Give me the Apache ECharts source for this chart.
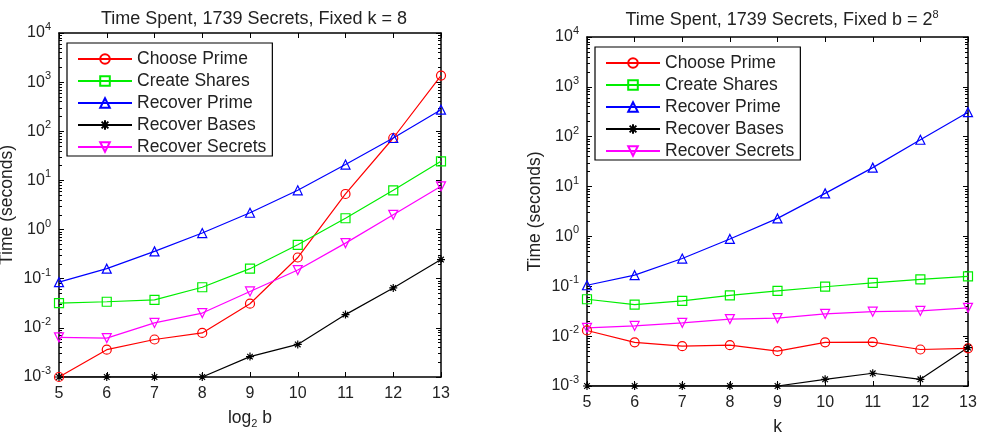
<!DOCTYPE html>
<html>
<head>
<meta charset="utf-8">
<script src="https://cdn.jsdelivr.net/npm/echarts@6/dist/echarts.min.js"></script>
<style>
  html, body { margin: 0; padding: 0; background: #fff; }
  #main { width: 987px; height: 432px; }
</style>
</head>
<body>
<div id="main"></div>
<script>
// x values (log2 b on the left, k on the right)
const xVals = [5, 6, 7, 8, 9, 10, 11, 12, 13];

// left panel: fixed k = 8
const choosePrimeB = [0.001, 0.0036, 0.0058, 0.0079, 0.031, 0.27, 5.3, 73, 1360];
const createSharesB = [0.032, 0.034, 0.037, 0.067, 0.16, 0.49, 1.7, 6.3, 24.5];
const recoverPrimeB = [0.085, 0.16, 0.36, 0.85, 2.2, 6.3, 21, 73, 275];
const recoverBasesB = [0.001, 0.001, 0.001, 0.001, 0.0026, 0.0046, 0.0186, 0.065, 0.245];
const recoverSecretsB = [0.0064, 0.0062, 0.0126, 0.020, 0.055, 0.15, 0.53, 2.0, 7.6];

// right panel: fixed b = 2^8
const choosePrimeK = [0.013, 0.0075, 0.0063, 0.0066, 0.005, 0.0075, 0.0076, 0.0054, 0.0057];
const createSharesK = [0.055, 0.043, 0.051, 0.066, 0.081, 0.098, 0.117, 0.137, 0.158];
const recoverPrimeK = [0.105, 0.167, 0.36, 0.89, 2.3, 7.3, 24, 87, 310];
const recoverBasesK = [0.001, 0.001, 0.001, 0.001, 0.001, 0.00136, 0.0018, 0.00136, 0.0059];
const recoverSecretsK = [0.0146, 0.016, 0.0185, 0.022, 0.023, 0.028, 0.031, 0.032, 0.037];

const seriesNames = ['Choose Prime', 'Create Shares', 'Recover Prime', 'Recover Bases', 'Recover Secrets'];

const chart = echarts.init(document.getElementById('main'));

const FONT = 'Liberation Sans, Arial, sans-serif';
const colors = ['#ff0000', '#00ee00', '#0000ff', '#000000', '#ff00ff'];
const symbols = [
  'circle',
  'rect',
  'triangle',
  'path://M5,0L5,10M0,5L10,5M1.5,1.5L8.5,8.5M1.5,8.5L8.5,1.5',
  'triangle'
];

// minor tick values 2..9 per decade
const minorVals = [];
for (let d = -3; d < 4; d++) {
  for (let m = 2; m <= 9; m++) {
    minorVals.push(Number((m * Math.pow(10, d)).toPrecision(2)));
  }
}

function mkSeries(name, idx, ys, axisBase) {
  return {
    name: name,
    type: 'line',
    xAxisIndex: axisBase.x,
    yAxisIndex: axisBase.y,
    data: xVals.map((x, i) => [x, ys[i]]),
    symbol: symbols[idx],
    symbolSize: idx === 3 ? 8 : 9,
    symbolRotate: idx === 4 ? 180 : 0,
    showAllSymbol: true,
    lineStyle: { color: colors[idx], width: 1.2 },
    itemStyle: { color: 'rgba(255,255,255,0)', borderColor: colors[idx], borderWidth: 1.2 },
    emphasis: { disabled: true },
    animation: false
  };
}

function yLabel(v) {
  const e = Math.round(Math.log10(v));
  return '{b|10}{e|' + e + '}';
}

const yRich = {
  b: { fontSize: 16, fontFamily: FONT, color: '#222' },
  e: { fontSize: 11, fontFamily: FONT, color: '#222', padding: [0, 0, 12, 0] }
};

function makeAxes(gi) {
  const xBottom = {
    type: 'value', gridIndex: gi, min: 5, max: 13, interval: 1, position: 'bottom',
    axisLine: { show: true, lineStyle: { color: '#000', width: 1.5 } },
    axisTick: { show: true, inside: true, length: 5, lineStyle: { color: '#000' } },
    axisLabel: { fontSize: 16, fontFamily: FONT, color: '#222', margin: 9 },
    splitLine: { show: false },
    nameLocation: 'middle',
    nameMoveOverlap: false,
    nameGap: gi === 0 ? 31 : 32,
    name: gi === 0 ? '{a|log}{s|2}{a| b}' : 'k',
    nameTextStyle: {
      fontSize: 17.5, fontFamily: FONT, color: '#222', verticalAlign: 'top',
      rich: {
        a: { fontSize: 17.5, fontFamily: FONT, color: '#222' },
        s: { fontSize: 11, fontFamily: FONT, color: '#222', padding: [10, 0, 0, 0] }
      }
    }
  };
  const xTop = {
    type: 'value', gridIndex: gi, min: 5, max: 13, interval: 1, position: 'top',
    axisLine: { show: true, lineStyle: { color: '#000', width: 1.5 } },
    axisTick: { show: true, inside: true, length: 5, lineStyle: { color: '#000' } },
    axisLabel: { show: false },
    splitLine: { show: false }
  };
  const yMain = (pos, labels) => ({
    type: 'log', logBase: 10, gridIndex: gi, min: 0.001, max: 10000, splitNumber: 7,
    position: pos,
    axisLine: { show: true, lineStyle: { color: '#000', width: 1.5 } },
    axisTick: { show: true, inside: true, length: 5, lineStyle: { color: '#000' } },
    axisLabel: labels
      ? { show: true, formatter: yLabel, rich: yRich, margin: 8 }
      : { show: false },
    splitLine: { show: false },
    name: labels ? 'Time (seconds)' : '',
    nameLocation: 'middle',
    nameMoveOverlap: false,
    nameGap: 43,
    nameTextStyle: { fontSize: 17.5, fontFamily: FONT, color: '#222' }
  });
  const yMinor = (pos) => ({
    type: 'log', logBase: 10, gridIndex: gi, min: 0.001, max: 10000, splitNumber: 7,
    position: pos,
    axisLine: { show: false },
    axisTick: { show: true, inside: true, length: 3, customValues: minorVals, lineStyle: { color: '#000' } },
    axisLabel: { show: false },
    splitLine: { show: false }
  });
  return {
    x: [xBottom, xTop],
    y: [yMain('left', true), yMain('right', false), yMinor('left'), yMinor('right')]
  };
}

const a0 = makeAxes(0);
const a1 = makeAxes(1);

const leftData = [choosePrimeB, createSharesB, recoverPrimeB, recoverBasesB, recoverSecretsB];
const rightData = [choosePrimeK, createSharesK, recoverPrimeK, recoverBasesK, recoverSecretsK];

const series = [];
seriesNames.forEach((n, i) => series.push(mkSeries(n, i, leftData[i], { x: 0, y: 0 })));
seriesNames.forEach((n, i) => series.push(mkSeries(n, i, rightData[i], { x: 2, y: 4 })));

const legendBase = {
  orient: 'vertical',
  data: seriesNames,
  itemWidth: 54,
  itemHeight: 12,
  itemGap: 4,
  padding: [7, 6, 0, 10],
  backgroundColor: '#fff',
  borderColor: '#000',
  borderWidth: 1.2,
  borderRadius: 0,
  selectedMode: false,
  textStyle: { fontSize: 17.5, fontFamily: FONT, color: '#222' }
};

const option = {
  backgroundColor: '#fff',
  animation: false,
  title: [
    {
      text: 'Time Spent, 1739 Secrets, Fixed k = 8',
      left: 249, top: 5, textAlign: 'center',
      textStyle: { fontSize: 18, fontWeight: 'normal', fontFamily: FONT, color: '#222' }
    },
    {
      text: '{t|Time Spent, 1739 Secrets, Fixed b = 2}{s|8}',
      left: 777, top: 4, textAlign: 'center',
      textStyle: {
        fontWeight: 'normal',
        rich: {
          t: { fontSize: 18, fontWeight: 'normal', fontFamily: FONT, color: '#222' },
          s: { fontSize: 11, fontWeight: 'normal', fontFamily: FONT, color: '#222', padding: [0, 0, 12, 0] }
        }
      }
    }
  ],
  legend: [
    Object.assign({}, legendBase, { left: 67, top: 43 }),
    Object.assign({}, legendBase, { left: 595, top: 47 })
  ],
  grid: [
    { left: 59, top: 33, width: 382, height: 344, outerBoundsMode: 'none', containLabel: false },
    { left: 587, top: 37, width: 381, height: 349, outerBoundsMode: 'none', containLabel: false }
  ],
  xAxis: a0.x.concat(a1.x),
  yAxis: a0.y.concat(a1.y),
  series: series
};

chart.setOption(option);
</script>
</body>
</html>
